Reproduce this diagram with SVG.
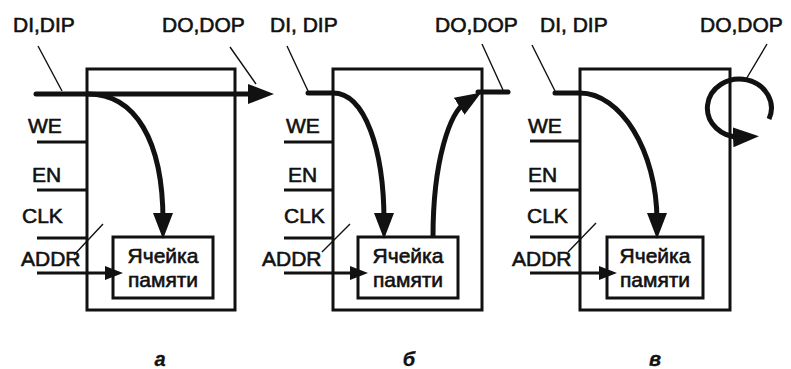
<svg xmlns="http://www.w3.org/2000/svg" width="791" height="369" viewBox="0 0 791 369">
<style>
text{font-family:"Liberation Sans",Arial,sans-serif;font-size:21px;fill:#111;stroke:#111;stroke-width:0.6}
.cell{font-size:21px;text-anchor:middle}
.cap{font-size:20px;font-style:italic;font-weight:bold;text-anchor:middle;stroke-width:0.3}
.box{fill:none;stroke:#111;stroke-width:3}
.sig{fill:none;stroke:#111;stroke-width:3}
.bus{fill:none;stroke:#111;stroke-width:5;stroke-linecap:round}
.flow{fill:none;stroke:#111;stroke-width:5}
.lead{fill:none;stroke:#111;stroke-width:1.4}
</style>
<defs>
<marker id="big" markerUnits="userSpaceOnUse" markerWidth="28" markerHeight="22" refX="8" refY="10" orient="auto">
<path d="M0,0 L26,10 L0,20 Z" fill="#111"/>
</marker>
<marker id="small" markerUnits="userSpaceOnUse" markerWidth="20" markerHeight="16" refX="4" refY="7" orient="auto">
<path d="M0,0 L18,7 L0,14 Z" fill="#111"/>
</marker>
</defs>

<!-- Panel a -->
<g id="panel-a">
<g id="a-block"><rect class="box" x="87" y="69" width="148" height="241"/></g>
<g id="a-cell"><rect class="box" x="113" y="237" width="100" height="61"/>
<text class="cell" x="163" y="263">Ячейка</text><text class="cell" x="163" y="287">памяти</text></g>
<g id="a-labels">
<text x="13" y="32">DI,DIP</text>
<text x="162" y="32">DO,DOP</text>
<text x="28" y="133">WE</text>
<text x="32" y="182">EN</text>
<text x="22" y="223">CLK</text>
<text x="21" y="266">ADDR</text>
<text class="cap" x="160" y="366">а</text>
</g>
</g>

<!-- Panel b -->
<g id="panel-b">
<g id="b-block"><rect class="box" x="333" y="69" width="149" height="241"/></g>
<g id="b-cell"><rect class="box" x="358" y="237" width="100" height="61"/>
<text class="cell" x="408" y="263">Ячейка</text><text class="cell" x="408" y="287">памяти</text></g>
<g id="b-labels">
<text x="270" y="32">DI, DIP</text>
<text x="435" y="32">DO,DOP</text>
<text x="286" y="133">WE</text>
<text x="288" y="182">EN</text>
<text x="284" y="223">CLK</text>
<text x="262" y="266">ADDR</text>
<text class="cap" x="409" y="366">б</text>
</g>
</g>

<!-- Panel c -->
<g id="panel-c">
<g id="c-block"><rect class="box" x="580" y="69" width="150" height="241"/></g>
<g id="c-cell"><rect class="box" x="607" y="237" width="96" height="61"/>
<text class="cell" x="655" y="263">Ячейка</text><text class="cell" x="655" y="287">памяти</text></g>
<g id="c-labels">
<text x="540" y="32">DI, DIP</text>
<text x="700" y="32">DO,DOP</text>
<text x="528" y="133">WE</text>
<text x="528" y="182">EN</text>
<text x="527" y="223">CLK</text>
<text x="512" y="266">ADDR</text>
<text class="cap" x="655" y="366">в</text>
</g>
</g>

<g id="connectors">
<!-- a -->
<path class="lead" d="M38,46 L62,91 M230,47 L256,84 M74,255 L103,224"/>
<path class="sig" d="M37,142 H87 M37,190 H87 M37,238 H87"/>
<path class="sig" d="M37,273 H109" marker-end="url(#small)"/>
<path class="bus" d="M36,94 H256" marker-end="url(#big)"/>
<path class="flow" d="M88,94 C135,94 163,140 163,221" marker-end="url(#big)"/>
<!-- b -->
<path class="lead" d="M287,46 L308,91 M482,44 L503,90 M322,252 L350,224"/>
<path class="sig" d="M284,142 H333 M284,190 H333 M284,238 H333"/>
<path class="sig" d="M284,273 H354" marker-end="url(#small)"/>
<path class="bus" d="M308,93 H333"/>
<path class="flow" d="M333,93 C365,93 384,150 384,221" marker-end="url(#big)"/>
<path class="flow" d="M433,237 C433,160 450,112 466,102" marker-end="url(#big)"/>
<path class="bus" d="M478,92 H508"/>
<!-- c -->
<path class="lead" d="M532,45 L555,91 M767,44 L745,81 M568,252 L596,223"/>
<path class="sig" d="M530,141 H580 M530,190 H580 M530,237 H580"/>
<path class="sig" d="M530,273 H603" marker-end="url(#small)"/>
<path class="bus" d="M555,93 H580"/>
<path class="flow" d="M580,93 C620,93 657,150 657,221" marker-end="url(#big)"/>
<path class="flow" d="M769,119 A32,29 0 1 0 741,137" marker-end="url(#big)"/>
</g>
</svg>
